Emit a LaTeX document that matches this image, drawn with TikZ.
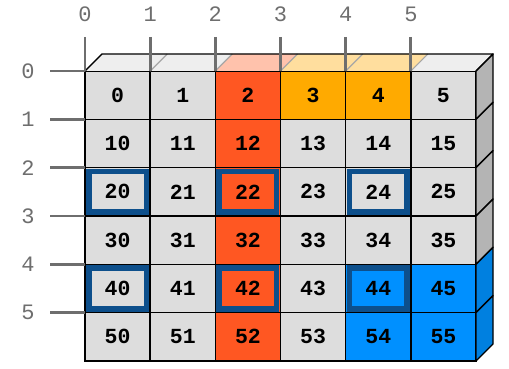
\documentclass[tikz,border=0pt]{standalone}
\usepackage{fontspec}
\setmonofont{Liberation Mono}
\usepackage{xcolor}
\usetikzlibrary{positioning, calc}

\definecolor{cellgray}{HTML}{DDDDDD}
\definecolor{topgray}{HTML}{EEEEEE}
\definecolor{sidegray}{HTML}{B4B4B4}
\definecolor{redcell}{HTML}{FF5722}
\definecolor{redtop}{HTML}{FFC2AC}
\definecolor{orangecell}{HTML}{FFAA00}
\definecolor{orangetop}{HTML}{FFDE9E}
\definecolor{bluecell}{HTML}{0090FF}
\definecolor{blueside}{HTML}{0080E0}
\definecolor{hlblue}{HTML}{0D4F8B}
\definecolor{axisgray}{HTML}{6E6E6E}

\begin{document}
\begin{tikzpicture}[
  x=1pt, y=-1pt,
  cell/.style={draw=black, line width=1.4pt, minimum width=65.17pt,
               minimum height=48.33pt, anchor=north west, inner sep=0pt,
               outer sep=0pt, font=\ttfamily\bfseries\fontsize{21.5}{21.5}\selectfont},
  hl/.style={draw=hlblue, line width=5.5pt},
  face/.style={draw=black, line width=1.4pt, line join=round},
  axlbl/.style={font=\ttfamily\fontsize{22}{22}\selectfont, text=axisgray, inner sep=0pt},
  tick/.style={draw=axisgray, line width=2.8pt}
]
  \useasboundingbox (0,0) rectangle (509,369);

  % cells
  \foreach \row in {0,...,5} {
    \foreach \col in {0,...,5} {
      \def\fc{cellgray}
      \ifnum\col=2 \def\fc{redcell}\fi
      \ifnum\row=0 \ifnum\col>2 \ifnum\col<5 \def\fc{orangecell}\fi\fi\fi
      \ifnum\row>3 \ifnum\col>3 \def\fc{bluecell}\fi\fi
      \node[cell, fill=\fc] (c\row\col) at ({85+65.17*\col},{71+48.33*\row})
           {\ifnum\row=0 \col\else\row\col\fi};
    }
  }

  % highlighted cells
  \foreach \row in {2,4} {
    \foreach \col in {0,2,4} {
      \draw[hl] ([shift={(3.8,3.8)}]c\row\col.north west)
             rectangle ([shift={(-3.8,-3.8)}]c\row\col.south east);
    }
  }

  % top face
  \foreach \col/\tc in {0/topgray,1/topgray,2/redtop,3/orangetop,4/orangetop,5/topgray} {
    \fill[\tc] (c0\col.north west) -- ([shift={(17,-17)}]c0\col.north west)
          -- ([shift={(17,-17)}]c0\col.north east) -- (c0\col.north east) -- cycle;
    \draw[gray!70, line width=1.2pt] (c0\col.north west) -- ([shift={(17,-17)}]c0\col.north west);
  }
  \draw[face] (c00.north west) -- ([shift={(17,-17)}]c00.north west)
        -- ([shift={(17,-17)}]c05.north east) -- (c05.north east);

  % side face
  \foreach \row/\sc in {0/sidegray,1/sidegray,2/sidegray,3/sidegray,4/blueside,5/blueside} {
    \filldraw[face, fill=\sc] (c\row5.north east) -- ([shift={(17,-17)}]c\row5.north east)
          -- ([shift={(17,-17)}]c\row5.south east) -- (c\row5.south east) -- cycle;
  }

  % axes
  \foreach \i in {0,...,5} {
    \node[axlbl] (tx\i) at ({85+65.17*\i},14) {\i};
    \coordinate (tt\i) at ({85+65.17*\i},37);
    \draw[tick] (tt\i) -- (c0\i.north west);
    \node[axlbl] (lx\i) at (28,{71+48.33*\i}) {\i};
    \coordinate (lt\i) at (50,{71+48.33*\i});
    \draw[tick] (lt\i) -- (c\i0.north west);
  }
\end{tikzpicture}
\end{document}
